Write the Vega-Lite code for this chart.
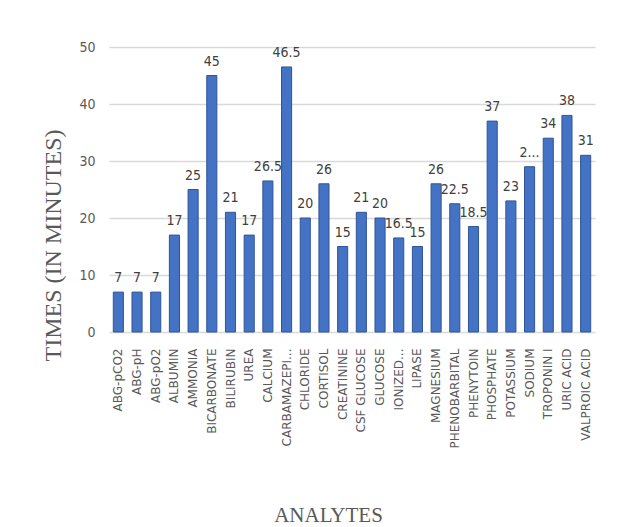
{
  "$schema": "https://vega.github.io/schema/vega-lite/v6.json",
  "autosize": {"type": "none"},
  "width": 486,
  "height": 285,
  "padding": {"left": 109, "top": 47, "right": 32, "bottom": 195},
  "background": "white",
  "config": {"view": {"stroke": null}},
  "data": {
    "values": [
      {"analyte": "ABG-pCO2", "time": 7, "label": "7"},
      {"analyte": "ABG-pH", "time": 7, "label": "7"},
      {"analyte": "ABG-pO2", "time": 7, "label": "7"},
      {"analyte": "ALBUMIN", "time": 17, "label": "17"},
      {"analyte": "AMMONIA", "time": 25, "label": "25"},
      {"analyte": "BICARBONATE", "time": 45, "label": "45"},
      {"analyte": "BILIRUBIN", "time": 21, "label": "21"},
      {"analyte": "UREA", "time": 17, "label": "17"},
      {"analyte": "CALCIUM", "time": 26.5, "label": "26.5"},
      {"analyte": "CARBAMAZEPI...", "time": 46.5, "label": "46.5"},
      {"analyte": "CHLORIDE", "time": 20, "label": "20"},
      {"analyte": "CORTISOL", "time": 26, "label": "26"},
      {"analyte": "CREATININE", "time": 15, "label": "15"},
      {"analyte": "CSF GLUCOSE", "time": 21, "label": "21"},
      {"analyte": "GLUCOSE", "time": 20, "label": "20"},
      {"analyte": "IONIZED...", "time": 16.5, "label": "16.5"},
      {"analyte": "LIPASE", "time": 15, "label": "15"},
      {"analyte": "MAGNESIUM", "time": 26, "label": "26"},
      {"analyte": "PHENOBARBITAL", "time": 22.5, "label": "22.5"},
      {"analyte": "PHENYTOIN", "time": 18.5, "label": "18.5"},
      {"analyte": "PHOSPHATE", "time": 37, "label": "37"},
      {"analyte": "POTASSIUM", "time": 23, "label": "23"},
      {"analyte": "SODIUM", "time": 29, "label": "2..."},
      {"analyte": "TROPONIN I", "time": 34, "label": "34"},
      {"analyte": "URIC ACID", "time": 38, "label": "38"},
      {"analyte": "VALPROIC ACID", "time": 31, "label": "31"}
    ]
  },
  "encoding": {
    "x": {
      "field": "analyte", "type": "nominal", "sort": null,
      "scale": {"paddingInner": 0.46, "paddingOuter": 0.23},
      "axis": {
        "title": "ANALYTES",
        "titleFont": "Liberation Serif", "titleFontSize": 21, "titleFontWeight": "normal",
        "titleColor": "#595959", "titleX": 219, "titleY": 189, "titleBaseline": "alphabetic",
        "labelAngle": -90, "labelFont": "DejaVu Sans", "labelFontSize": 12,
        "labelColor": "#595959", "labelPadding": 16,
        "domain": false, "ticks": false, "labelLimit": 200
      }
    },
    "y": {
      "field": "time", "type": "quantitative",
      "scale": {"domain": [0, 50], "nice": false},
      "axis": {
        "values": [0, 10, 20, 30, 40, 50],
        "title": "TIMES (IN MINUTES)",
        "titleFont": "Liberation Serif", "titleFontSize": 24, "titleFontWeight": "normal",
        "titleColor": "#595959", "titleY": 198, "titleX": -44,
        "labelFont": "DejaVu Sans Condensed", "labelFontSize": 14, "labelColor": "#595959",
        "labelPadding": 14,
        "domain": false, "ticks": false,
        "gridColor": "#d9d9d9", "gridWidth": 1.5
      }
    }
  },
  "layer": [
    {
      "mark": {"type": "bar", "color": "#4472c4", "stroke": "#2f5597", "strokeWidth": 1}
    },
    {
      "mark": {"type": "text", "dy": -14, "font": "DejaVu Sans Condensed", "fontSize": 14, "color": "#404040"},
      "encoding": {"text": {"field": "label"}}
    }
  ]
}
